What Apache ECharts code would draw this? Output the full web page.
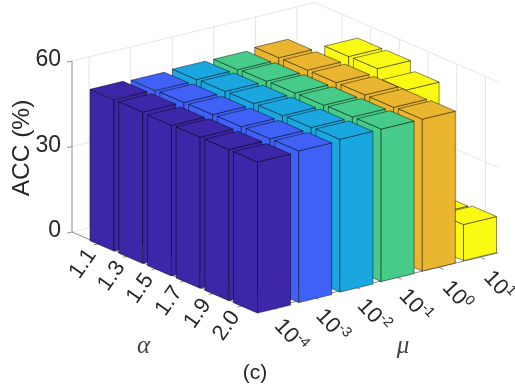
<!DOCTYPE html>
<html><head><meta charset="utf-8">
<style>html,body{margin:0;padding:0;background:#fff}#c{width:515px;height:386px}</style>
<script src="https://cdn.jsdelivr.net/npm/echarts@6/dist/echarts.min.js"></script>
</head><body><div id="c"></div>
<script>
const alphaLabels = ['1.1','1.3','1.5','1.7','1.9','2.0'];
const muExponents = ['-4','-3','-2','-1','0','1'];
const zTicks = [0,30,60];
const acc_mu_1e_4 = [53.3,53.3,53.0,53.2,53.2,53.2];
const acc_mu_1e_3 = [52.8,53.0,53.1,53.2,53.3,53.4];
const acc_mu_1e_2 = [53.0,53.2,53.3,53.4,53.6,53.8];
const acc_mu_1e_1 = [52.8,53.1,53.3,53.4,53.6,53.7];
const acc_mu_1e0  = [53.3,53.3,53.3,53.3,53.3,53.5];
const acc_mu_1e1  = [12.0,54.4,54.5,51.3,12.0,12.7];
const accByMu = [acc_mu_1e_4,acc_mu_1e_3,acc_mu_1e_2,acc_mu_1e_1,acc_mu_1e0,acc_mu_1e1];
const colors = ['#3E26A8','#4061F6','#1AA7E0','#47CB88','#EAB62F','#FAFA15'];
const TEXT = '#262626', FONT = '"Liberation Sans", Arial, sans-serif';

// oblique projection of the 3-D scene onto the hidden page-sized plane
const A0=0.06, A1=6.44, M0=0.59, M1=6.43;
const wall=(a,m,z)=>[72+28.7*(a-A0)+41.6*(m-M0), 232+12.43*(a-A0)-10*(m-M0)-2.85*z];
const barPt=(i,j,u,v,z)=>[90+28.7*i+41.2*j+24*u+33*v, 240.7+12.4*i-10.5*j+10.4*u-8*v-2.84*z];

// painter's order: back bars first
const barData=[];
for(let i=0;i<6;i++) for(let j=5;j>=0;j--) barData.push([i,j,accByMu[j][i]]);
const lineData=[];
zTicks.forEach(z=>{ if(z>0){ lineData.push([A0,M0,z,A0,M1,z,'g']); lineData.push([A0,M1,z,A1,M1,z,'g']); } else { lineData.push([A0,M0,z,A0,M1,z,'g']); }});
[1,2,3,4,5,6].forEach(m=>{ lineData.push([A0,m,0,A0,m,60,'g']); });
[1,2,3,4,5,6].forEach(a=>{ lineData.push([a,M1,0,a,M1,60,'g']); });
lineData.push([A0,M0,0,A0,M0,60,'a']);
lineData.push([A0,M0,0,A1,M0,0,'a']);
lineData.push([A1,M0,0,A1,M1,0,'a']);
zTicks.forEach(z=>lineData.push([A0,M0,z,A0,M0-0.12,z,'a']));
[1,2,3,4,5,6].forEach(a=>lineData.push([a,M0,0,a,M0-0.12,0,'a']));
[1,2,3,4,5,6].forEach(m=>lineData.push([A1,m,0,A1+0.17,m,0,'a']));

const chart=echarts.init(document.getElementById('c'),null,{renderer:'canvas'});
const poly=(api,pts,fill)=>({type:'polygon',shape:{points:pts.map(p=>api.coord(p))},
  style:{fill:fill,stroke:'rgba(0,0,0,0.5)',lineWidth:0.9,lineJoin:'round'}});
function renderBar(params,api){
  const i=api.value(0), j=api.value(1), z=api.value(2), c=colors[j];
  const P=(u,v,h)=>barPt(i,j,u,v,h);
  return {type:'group',children:[
    poly(api,[P(0,0,0),P(1,0,0),P(1,0,z),P(0,0,z)],c),
    poly(api,[P(1,0,0),P(1,1,0),P(1,1,z),P(1,0,z)],c),
    poly(api,[P(0,0,z),P(1,0,z),P(1,1,z),P(0,1,z)],c)
  ]};
}
function renderLine(params,api){
  const g=lineData[params.dataIndex];
  const p=api.coord(wall(g[0],g[1],g[2])), q=api.coord(wall(g[3],g[4],g[5]));
  return {type:'line',shape:{x1:p[0],y1:p[1],x2:q[0],y2:q[1]},
    style:{stroke:g[6]==='g'?'#e6e6e6':'#8c8c8c',lineWidth:1}};
}
const txt=(api,pos,text,size,rot,extra)=>{
  const p=api.coord(pos);
  return {type:'text',x:p[0],y:p[1],rotation:rot*Math.PI/180,
    style:Object.assign({text:text,font:size+'px '+FONT,fill:TEXT,align:'center',verticalAlign:'middle'},extra||{})};
};
function renderZLabel(params,api){
  const z=api.value(0), b=wall(A0,M0,z);
  return txt(api,[b[0]-11,b[1]-1],String(z),23,0,{align:'right'});
}
function renderAlphaLabel(params,api){
  const i=api.value(0), b=wall(i+1,M0,0);
  return txt(api,[b[0]-16,b[1]+20],alphaLabels[i],22,55);
}
function renderMuLabel(params,api){
  const j=api.value(0), b=wall(A1,j+1,0);
  return txt(api,[b[0]+19,b[1]+28],'{b|10}{s|'+muExponents[j]+'}',22,-47,{
    rich:{b:{fontSize:22,fontFamily:'Liberation Sans',fill:TEXT,lineHeight:24,verticalAlign:'bottom'},
          s:{fontSize:14,fontFamily:'Liberation Sans',fill:TEXT,lineHeight:24,verticalAlign:'top'}}});
}
function renderTitle(params,api){
  const d=titleData[params.dataIndex];
  return txt(api,[d[0],d[1]],d[2],d[3],d[4],d[5]);
}
const titleData=[
  [22,148,'ACC (%)',24.5,90,{}],
  [143.5,346,'\u03B1',25,0,{font:'italic 25px "Liberation Serif"',fill:'#444'}],
  [403,346,'\u03BC',25,0,{font:'italic 25px "Liberation Serif"',fill:'#444'}],
  [255,373,'(c)',21,0,{}]
];
const cs=(data,fn)=>({type:'custom',coordinateSystem:'cartesian2d',data:data,renderItem:fn,clip:false,silent:true,animation:false,progressive:0,encode:{x:[],y:[]}});
chart.setOption({
  animation:false,backgroundColor:'#fff',
  grid:{left:0,right:0,top:0,bottom:0},
  xAxis:{type:'value',min:0,max:515,show:false},
  yAxis:{type:'value',min:0,max:386,inverse:true,show:false},
  series:[
    cs(lineData.map((_,k)=>[k]),renderLine),
    cs(barData,renderBar),
    cs(zTicks.map(z=>[z]),renderZLabel),
    cs(alphaLabels.map((_,k)=>[k]),renderAlphaLabel),
    cs(muExponents.map((_,k)=>[k]),renderMuLabel),
    cs(titleData.map((_,k)=>[k]),renderTitle)
  ]
});
</script></body></html>
